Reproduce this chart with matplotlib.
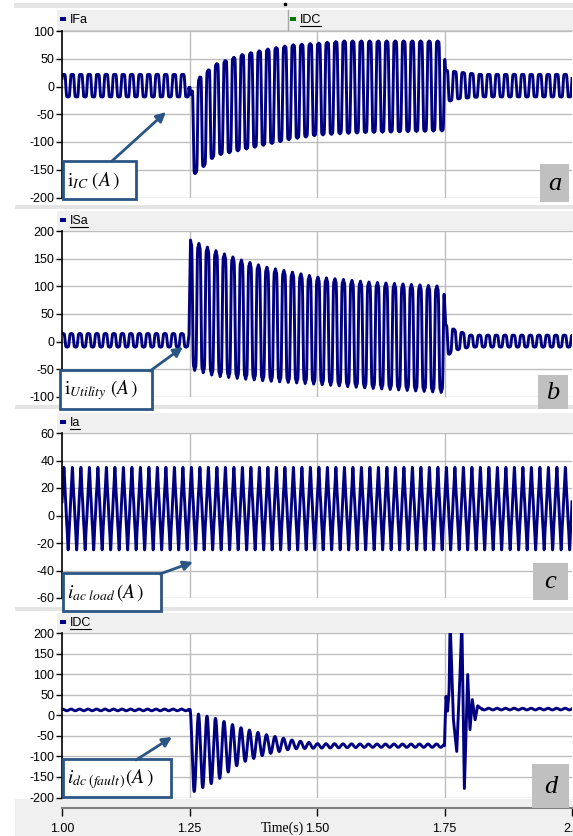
import numpy as np
import matplotlib.pyplot as plt
from matplotlib.patches import Rectangle

plt.rcParams['font.family'] = ['Liberation Sans', 'DejaVu Sans']
plt.rcParams['mathtext.fontset'] = 'stix'

W, H = 573, 836
FREQ = 60.0          # grid frequency, cycles counted on the picture
DT = 5e-5

time_ticks = [1.00, 1.25, 1.50, 1.75, 2.00]
time_tick_labels = ['1.00', '1.25', '1.50', '1.75', '2.0']

# --- values: envelope (top / bottom) at key instants ---
# a) inverter current IFa
ifa_t   = [1.000, 1.249, 1.252, 1.27, 1.30, 1.35, 1.40, 1.45, 1.50, 1.55, 1.60, 1.749, 1.752, 1.78, 1.82, 2.000]
ifa_top = [22, 22, -12, 17, 40, 57, 67, 75, 78, 82, 82, 82, 30, 26, 22, 22]
ifa_bot = [-19, -19, -163, -151, -125, -115, -105, -95, -88, -85, -83, -80, -28, -22, -19, -19]

# b) utility current ISa
isa_t   = [1.000, 1.249, 1.252, 1.30, 1.35, 1.40, 1.50, 1.60, 1.749, 1.752, 1.77, 1.80, 2.000]
isa_top = [15, 15, 184, 165, 148, 135, 117, 108, 100, 32, 22, 12, 12]
isa_bot = [-10, -10, -50, -62, -67, -71, -77, -84, -92, -28, -16, -10, -10]

# c) ac load current Ia
ia_t   = [1.000, 2.000]
ia_top = [35, 35]
ia_bot = [-25, -25]

# d) dc fault current IDC
idc_t   = [1.000, 1.249, 1.252, 1.26, 1.30, 1.35, 1.40, 1.45, 1.50, 1.60, 1.7495]
idc_top = [15, 15, 13, 5, -7, -30, -47, -60, -69, -70, -70]
idc_bot = [11, 11, -190, -185, -162, -116, -95, -82, -80, -78, -78]
idc_spike_t = [1.7500, 1.7510, 1.7530, 1.7560, 1.7590, 1.7610, 1.7640, 1.7675, 1.7740,
               1.7805, 1.7840, 1.7890, 1.7955, 1.8000, 1.8045, 1.8100, 1.8150, 1.8230]
idc_spike_v = [-74, -27, 46, 10, 60, 230, 120, -11, -88,
               103, 230, -178, 99, -35, 38, -11, 23, 15]
idc_post_t   = [1.8230, 2.000]
idc_post_top = [17, 17]
idc_post_bot = [13, 13]

LINE_C = '#000080'
GRID_C = '#bdbdbd'
BOX_C = '#2b5584'
BAND_C = '#e4e4e4'
HEAD_C = '#f0f0f0'


def shape(theta, h3=0.0, h5=0.0):
    w = np.sin(theta) + h3 * np.sin(3 * theta) + h5 * np.sin(5 * theta)
    ph = np.linspace(0, 2 * np.pi, 721)
    ref = np.sin(ph) + h3 * np.sin(3 * ph) + h5 * np.sin(5 * ph)
    return w / np.abs(ref).max()


def wave(t, kt, top, bot, h3=0.0, h5=0.0, phase=0.0):
    up = np.interp(t, kt, top)
    lo = np.interp(t, kt, bot)
    th = 2 * np.pi * FREQ * t + phase
    return (up + lo) / 2 + (up - lo) / 2 * shape(th, h3, h5)


t = np.arange(1.0, 2.0 + DT, DT)
ifa = wave(t, ifa_t, ifa_top, ifa_bot, h3=0.22, h5=0.06, phase=0.3)
isa = wave(t, isa_t, isa_top, isa_bot, h3=0.2, h5=0.06, phase=0.9)
ia = wave(t, ia_t, ia_top, ia_bot, h3=-0.12, h5=0.08, phase=0.2)

t_d1 = t[t < idc_spike_t[0]]
d1 = wave(t_d1, idc_t, idc_top, idc_bot, phase=1.2)
t_d2 = np.array(idc_spike_t)
d2 = np.array(idc_spike_v, dtype=float)
t_d3 = t[t > idc_post_t[0]]
d3 = wave(t_d3, idc_post_t, idc_post_top, idc_post_bot, phase=0.4)
t_dc = np.concatenate([t_d1, t_d2, t_d3])
idc = np.concatenate([d1, d2, d3])

panels = [
    dict(top=31, bot=197.5, ylim=(-200, 100), step=50, x=t, y=ifa),
    dict(top=231, bot=397, ylim=(-100, 200), step=50, x=t, y=isa),
    dict(top=433, bot=598, ylim=(-60, 60), step=20, x=t, y=ia),
    dict(top=633, bot=797.5, ylim=(-200, 200), step=50, x=t_dc, y=idc),
]

fig = plt.figure(figsize=(W / 100, H / 100), dpi=100)
fig.patch.set_facecolor('white')

X0, X1 = 62, 572
for p in panels:
    ax = fig.add_axes([X0 / W, 1 - p['bot'] / H, (X1 - X0) / W, (p['bot'] - p['top']) / H])
    ax.set_xlim(1.0, 2.0)
    ax.set_ylim(*p['ylim'])
    yt = np.arange(p['ylim'][0], p['ylim'][1] + 1, p['step'])
    ax.set_yticks(yt)
    ax.set_yticklabels([str(int(v)) for v in yt], fontsize=9)
    ax.set_xticks([])
    for v in yt:
        ax.axhline(v, color=GRID_C, lw=1.0, zorder=0)
    for v in time_ticks[1:4]:
        ax.axvline(v, color=GRID_C, lw=1.0, zorder=0)
    ax.plot(p['x'], p['y'], color=LINE_C, lw=2.1, zorder=2)
    for s in ['top', 'right', 'bottom']:
        ax.spines[s].set_visible(False)
    ax.spines['left'].set_color('black')
    ax.spines['left'].set_linewidth(1.2)
    ax.tick_params(axis='y', direction='out', length=4, width=1, pad=1.5, colors='black')

# time axis at the bottom
tax = fig.add_axes([X0 / W, 1 - 808 / H, (X1 - X0) / W, 0.0001])
tax.set_xlim(1.0, 2.0)
tax.set_yticks([])
tax.set_xticks(time_ticks)
tax.set_xticklabels(time_tick_labels, fontsize=9)
tax.tick_params(axis='x', direction='out', length=6, width=1, pad=5)
for s in ['top', 'right', 'left']:
    tax.spines[s].set_visible(False)
tax.spines['bottom'].set_color('#808080')
tax.spines['bottom'].set_linewidth(1.5)
tax.set_zorder(5)
tax.patch.set_alpha(0)

# overlay in pixel coordinates for the frame decorations
ov = fig.add_axes([0, 0, 1, 1], zorder=-1)
ov.set_xlim(0, W)
ov.set_ylim(H, 0)
ov.axis('off')
ov.add_patch(Rectangle((14, 3), W - 14, 5, color=BAND_C, lw=0))
ov.plot([285], [4], marker='s', ms=1.5, color='black')
for yb in [205, 405, 607]:
    ov.add_patch(Rectangle((15, yb), W - 15, 3.5, color=BAND_C, lw=0))
ov.add_patch(Rectangle((15, 799), W - 15, H - 799, color=HEAD_C, lw=0))

headers = [
    (10, [('IFa', 58, LINE_C, False), ('IDC', 288, '#007a00', True)]),
    (211, [('ISa', 58, LINE_C, True)]),
    (413, [('Ia', 58, LINE_C, True)]),
    (613, [('IDC', 58, LINE_C, True)]),
]
ulen = {'IDC': 21, 'ISa': 18, 'Ia': 10}
for y0, items in headers:
    ov.add_patch(Rectangle((57, y0), W - 57, 20, color=HEAD_C, lw=0))
    ov.plot([57, W], [y0 + 20, y0 + 20], color='#d0d0d0', lw=0.8)
    for name, x0, col, under in items:
        if x0 > 60:
            ov.plot([x0, x0], [y0, y0 + 20], color='#a8a8a8', lw=1)
        ov.add_patch(Rectangle((x0 + 2, y0 + 6.5), 6, 4.5, color=col, lw=0))
        ov.text(x0 + 12, y0 + 10, name, fontsize=9, va='center', ha='left', color='black')
        if under:
            ov.plot([x0 + 12, x0 + 12 + ulen[name]], [y0 + 16, y0 + 16], color='black', lw=0.8)

# floating overlay for boxes and arrows (on top of everything)
top_ov = fig.add_axes([0, 0, 1, 1], zorder=20)
top_ov.set_xlim(0, W)
top_ov.set_ylim(H, 0)
top_ov.axis('off')
top_ov.patch.set_alpha(0)

notes = [
    ((63, 161, 73, 38), r'$\mathrm{i}_{IC}\ (A\,)$', (112, 161), (166, 112)),
    ((60, 370, 92, 39), r'$\mathrm{i}_{Utility}\ (A\,)$', (150, 371), (183, 347)),
    ((63, 573, 98, 38), r'$i_{ac\ load}\,(A\,)$', (160, 574), (193, 562)),
    ((63, 759, 108, 38), r'$i_{dc\ (fault\,)}(A\,)$', (136, 760), (172, 737)),
]
for (bx, by, bw, bh), txt, p0, p1 in notes:
    top_ov.add_patch(Rectangle((bx, by), bw, bh, facecolor='white', edgecolor=BOX_C, lw=2))
    top_ov.text(bx + 4, by + bh / 2 + 1, txt, fontsize=14, va='center', ha='left', color='black')
    top_ov.annotate('', xy=p1, xytext=p0,
                    arrowprops=dict(arrowstyle='-|>', color=BOX_C, lw=2, mutation_scale=14,
                                    shrinkA=0, shrinkB=0))

letters = [('a', 540, 164, 29, 38), ('b', 538, 375, 30, 34), ('c', 533, 563, 35, 37), ('d', 532, 764, 37, 44)]
for ch, lx, ly, lw_, lh in letters:
    top_ov.add_patch(Rectangle((lx, ly), lw_, lh, color='#c0c0c0', lw=0))
    top_ov.text(lx + lw_ / 2, ly + lh / 2 + 1, ch, fontsize=19, style='italic',
                family='Liberation Serif', ha='center', va='center', color='black')

top_ov.text(282, 828, 'Time(s)', fontsize=10, family='Liberation Serif', ha='center', va='center')

fig.savefig('out.png', dpi=100)
